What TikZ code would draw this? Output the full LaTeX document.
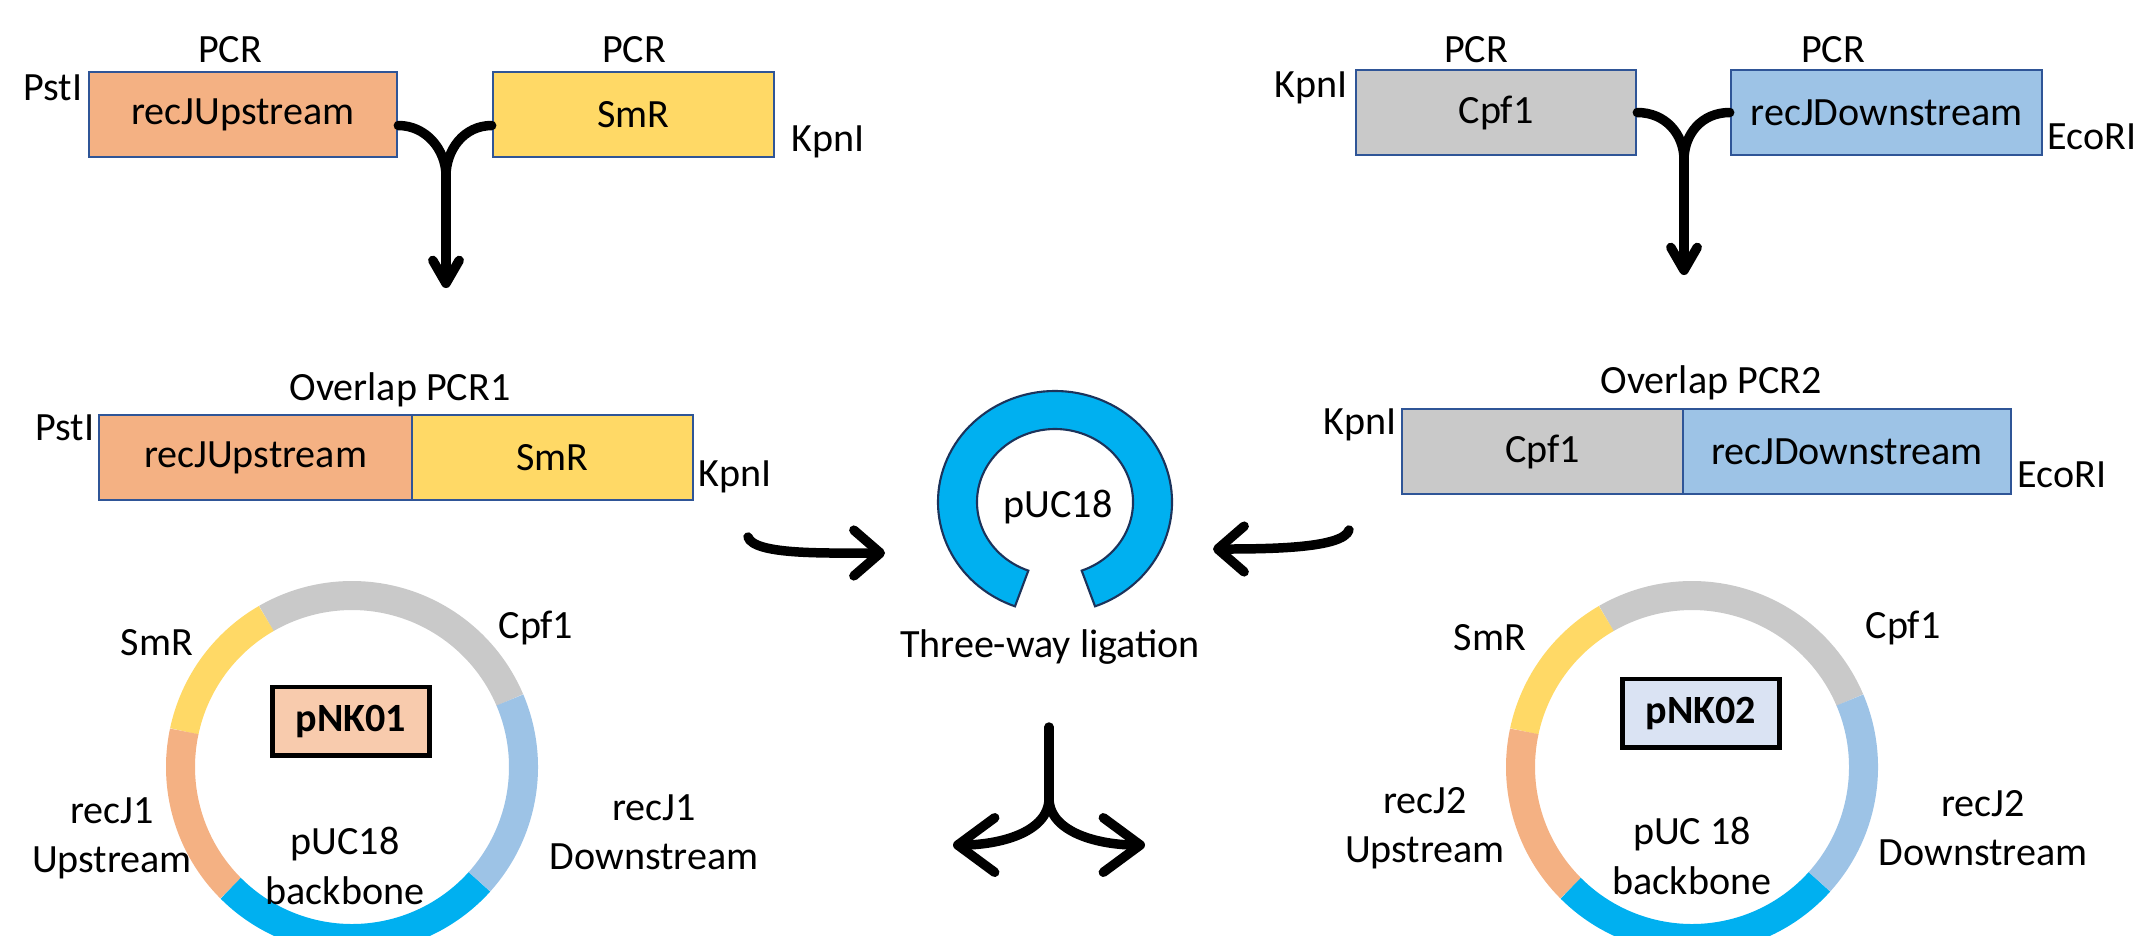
\documentclass[tikz,border=0pt]{standalone}
\usepackage{fontspec}
\setmainfont{Carlito}
\usetikzlibrary{arrows.meta,calc}
\definecolor{upcol}{HTML}{F4B183}
\definecolor{smcol}{HTML}{FFD966}
\definecolor{cpfcol}{HTML}{C9C9C9}
\definecolor{downcol}{HTML}{9DC3E6}
\definecolor{pucol}{HTML}{00B0F0}
\definecolor{edgecol}{HTML}{2F5597}
\definecolor{nkonecol}{HTML}{F8CBAD}
\definecolor{nktwocol}{HTML}{DAE3F3}

\begin{document}
\begin{tikzpicture}[x=0.01cm,y=-0.01cm,font=\fontsize{11.4}{14}\selectfont,
  frag/.style={draw=edgecol,line width=0.7pt,inner sep=0pt,minimum height=0.85cm},
  nkbox/.style={draw=black,line width=1.4pt,inner sep=0pt,minimum width=1.57cm,minimum height=0.68cm,font=\fontsize{11.4}{14}\selectfont\bfseries},
  twoline/.style={align=center},
  fat/.style={line width=2.7pt,line cap=round},
  barb/.style={-{Straight Barb[length=6.5pt,width=7.5pt,round]}},
  sidebarb/.style={-{Straight Barb[length=7.5pt,width=13pt,round]}},
  splitbarb/.style={-{Straight Barb[length=10.5pt,width=15.5pt,round]}},
  ring/.style={line width=0.29cm}]
\useasboundingbox (0,0) rectangle (2137,935);
\clip (0,0) rectangle (2137,935);

% first PCR pair
\node[frag,fill=upcol,minimum width=3.08cm] (upA) at (243,114.5) {recJUpstream};
\node[frag,fill=smcol,minimum width=2.81cm] (smA) at (633.5,114.5) {SmR};
\node (pcrA) at (230,50) {PCR};
\node (pcrB) at (634,50) {PCR};
\node (pstA) at (53,88) {PstI};
\node (kpnA) at (828,142) {KpnI};
\coordinate (jA) at (446,176);
\coordinate (tA) at (446,288);
\draw[fat] ($(upA.east)+(0,11)$) .. controls +(28,0) and +(0,-26) .. (jA);
\draw[fat] ($(smA.west)+(0,11)$) .. controls +(-28,0) and +(0,-26) .. (jA);
\draw[fat,barb] (jA) -- (tA);

% second PCR pair
\node[frag,fill=cpfcol,minimum width=2.80cm] (cpfA) at (1496,112.5) {Cpf1};
\node[frag,fill=downcol,minimum width=3.11cm] (dnA) at (1886.5,112.5) {recJDownstream};
\node (pcrC) at (1476,50) {PCR};
\node (pcrD) at (1833,50) {PCR};
\node (kpnB) at (1311,88) {KpnI};
\node (ecoA) at (2092,137) {EcoRI};
\coordinate (jB) at (1684,160);
\coordinate (tB) at (1684,275);
\draw[fat] (cpfA.east) .. controls +(28,0) and +(0,-26) .. (jB);
\draw[fat] (dnA.west) .. controls +(-28,0) and +(0,-26) .. (jB);
\draw[fat,barb] (jB) -- (tB);

% overlap products
\node[frag,fill=upcol,minimum width=3.13cm] (upB) at (255.5,457.5) {recJUpstream};
\node[frag,fill=smcol,minimum width=2.81cm] (smB) at (552.5,457.5) {SmR};
\node (ovA) at (400,390) {Overlap PCR1};
\node (pstB) at (65,428) {PstI};
\node (kpnC) at (735,477) {KpnI};

\node[frag,fill=cpfcol,minimum width=2.81cm] (cpfB) at (1542.5,451.5) {Cpf1};
\node[frag,fill=downcol,minimum width=3.28cm] (dnB) at (1847,451.5) {recJDownstream};
\node (ovB) at (1711,383) {Overlap PCR2};
\node (kpnD) at (1360,425) {KpnI};
\node (ecoB) at (2062,475) {EcoRI};

% opened pUC18
\draw[fill=pucol,draw=edgecol!60!black,line width=0.6pt]
  ([shift={(1055,502)}]110:117 and 111) arc[start angle=110,end angle=430,x radius=117,y radius=111]
  -- ([shift={(1055,502)}]70:78 and 73) arc[start angle=70,end angle=-250,x radius=78,y radius=73] -- cycle;
\node (puc) at (1058,507) {pUC18};
\node (lig) at (1050,647) {Three-way ligation};

\coordinate (inA0) at (748,537);
\coordinate (inA1) at (885,553);
\coordinate (inB0) at (1349,530);
\coordinate (inB1) at (1213,549);
\draw[fat,sidebarb] (inA0) .. controls +(6,18) and +(-60,0) .. (inA1);
\draw[fat,sidebarb] (inB0) .. controls +(-6,18) and +(60,0) .. (inB1);

\coordinate (outS) at (1049,727);
\coordinate (outM) at (1049,798);
\coordinate (outL) at (953,845);
\coordinate (outR) at (1145,845);
\draw[fat] (outS) -- (outM);
\draw[fat,splitbarb] (outM) .. controls +(0,35) and +(45,0) .. (outL);
\draw[fat,splitbarb] (outM) .. controls +(0,35) and +(-45,0) .. (outR);

% pNK01
\draw[ring,cpfcol] ([shift={(352,767)}]-23:171.5) arc[start angle=-23,end angle=-120,radius=171.5];
\draw[ring,smcol] ([shift={(352,767)}]-120:171.5) arc[start angle=-120,end angle=-168,radius=171.5];
\draw[ring,upcol] ([shift={(352,767)}]-168:171.5) arc[start angle=-168,end angle=-225,radius=171.5];
\draw[ring,pucol] ([shift={(352,767)}]-225:171.5) arc[start angle=-225,end angle=-318,radius=171.5];
\draw[ring,downcol] ([shift={(352,767)}]-318:171.5) arc[start angle=-318,end angle=-383,radius=171.5];
\node[nkbox,fill=nkonecol] (nkA) at (351,721) {pNK01};
\node (smC) at (157,643) {SmR};
\node (cpfC) at (536,628) {Cpf1};
\node[twoline] (upC) at (112,838) {recJ1\\Upstream};
\node[twoline] (dnC) at (654,832) {recJ1\\Downstream};
\node[twoline] (bbA) at (345,866) {pUC18\\backbone};

% pNK02
\draw[ring,cpfcol] ([shift={(1692,767)}]-23:171.5) arc[start angle=-23,end angle=-120,radius=171.5];
\draw[ring,smcol] ([shift={(1692,767)}]-120:171.5) arc[start angle=-120,end angle=-168,radius=171.5];
\draw[ring,upcol] ([shift={(1692,767)}]-168:171.5) arc[start angle=-168,end angle=-225,radius=171.5];
\draw[ring,pucol] ([shift={(1692,767)}]-225:171.5) arc[start angle=-225,end angle=-318,radius=171.5];
\draw[ring,downcol] ([shift={(1692,767)}]-318:171.5) arc[start angle=-318,end angle=-383,radius=171.5];
\node[nkbox,fill=nktwocol] (nkB) at (1701,713) {pNK02};
\node (smD) at (1490,638) {SmR};
\node (cpfD) at (1903,628) {Cpf1};
\node[twoline] (upD) at (1425,828) {recJ2\\Upstream};
\node[twoline] (dnD) at (1983,828) {recJ2\\Downstream};
\node[twoline] (bbB) at (1692,856) {pUC 18\\backbone};
\end{tikzpicture}
\end{document}
